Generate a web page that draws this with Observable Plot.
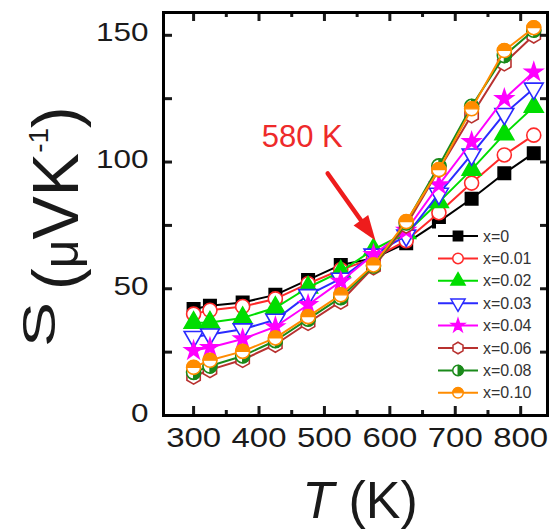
<!DOCTYPE html>
<html><head><meta charset="utf-8">
<script src="https://cdn.jsdelivr.net/npm/d3@7"></script>
<script src="https://cdn.jsdelivr.net/npm/@observablehq/plot@0.6"></script>
<style>body{margin:0;background:#fff} svg{display:block}</style>
</head><body><div id="chart"></div>
<script>
// ---- data ----
const temperatures = [300, 325, 375, 425, 475, 525, 575, 625, 675, 725, 775, 820];
const seriesNames = ["x=0", "x=0.01", "x=0.02", "x=0.03", "x=0.04", "x=0.06", "x=0.08", "x=0.10"];
const s_x000 = [42, 43.3, 44.6, 47.6, 53.5, 59.4, 62, 68, 76.5, 85.5, 95.6, 103.5];
const s_x001 = [40, 41.5, 43, 46, 52, 57.5, 62, 69, 80, 91.7, 102.8, 110.6];
const s_x002 = [36.6, 36.7, 38.5, 42.5, 50.5, 56.8, 65.5, 72, 84.2, 97, 111, 121.8];
const s_x003 = [31, 32, 34, 37.8, 47.5, 54, 63.5, 71, 87.5, 103, 119, 129];
const s_x004 = [25.6, 26.8, 30.2, 35, 43.7, 52.9, 63.5, 73, 91, 108, 125, 135.5];
const s_x006 = [15.4, 18, 22, 28, 36.6, 45, 58.5, 75, 97, 118.5, 139, 150];
const s_x008 = [17, 19.5, 23.5, 29.5, 38, 46.5, 59, 76, 98.5, 122, 142, 152];
const s_x010 = [19, 21.8, 25.3, 30.6, 39, 47.6, 59.4, 76.5, 97, 121, 144, 153];
const seriesValues = [s_x000, s_x001, s_x002, s_x003, s_x004, s_x006, s_x008, s_x010];
const xTickLabels = [300, 400, 500, 600, 700, 800];
const xMinorTicks = [350, 450, 550, 650, 750];
const yTickLabels = [0, 50, 100, 150];
const yAllTicks = [0, 25, 50, 75, 100, 125, 150];
const annotationText = ["580 K"];
const annotationPos = [{T: 466, S: 110}];
const arrowPos = [{T1: 505, S1: 95.5, T2: 578, S2: 69}];

// ---- styles ----
const seriesColors = ["#000000", "#ff2a2a", "#00dd00", "#2a2aff", "#ff00ff", "#b8312f", "#1a8a1a", "#ff8c00"];

const rows = [];
seriesNames.forEach((name, i) => temperatures.forEach((T, j) => rows.push({series: name, T, S: seriesValues[i][j]})));

// custom symbols
const hexSym = {draw(ctx, size) {
  const a = Math.sqrt(2 * size / (3 * Math.sqrt(3)));
  for (let k = 0; k < 6; k++) {
    const ang = -Math.PI / 2 + k * Math.PI / 3;
    const px = a * Math.cos(ang), py = a * Math.sin(ang);
    k === 0 ? ctx.moveTo(px, py) : ctx.lineTo(px, py);
  }
  ctx.closePath();
}};
const topHalf = {draw(ctx, size) {
  const r = Math.sqrt(size / Math.PI);
  ctx.moveTo(-r, 0); ctx.arc(0, 0, r, Math.PI, 2 * Math.PI); ctx.closePath();
}};
const rightHalf = {draw(ctx, size) {
  const r = Math.sqrt(size / Math.PI);
  ctx.moveTo(0, -r); ctx.arc(0, 0, r, -Math.PI / 2, Math.PI / 2); ctx.closePath();
}};
const triDown = {draw(ctx, size) {
  const s = Math.sqrt(size * 4 / Math.sqrt(3));
  const h = s * Math.sqrt(3) / 2;
  ctx.moveTo(0, 2 * h / 3); ctx.lineTo(s / 2, -h / 3); ctx.lineTo(-s / 2, -h / 3); ctx.closePath();
}};
const arrowHead = {draw(ctx) {
  ctx.moveTo(0, 0); ctx.lineTo(-9, -25); ctx.lineTo(9, -25); ctx.closePath();
}};

const markerSpec = [
  {symbol: "square", fill: "color"},
  {symbol: "circle", fill: "white"},
  {symbol: "triangle", fill: "color"},
  {symbol: triDown, fill: "white"},
  {symbol: "star", fill: "color", r: 5.5},
  {symbol: hexSym, fill: "white"},
  {symbol: "circle", fill: "white", overlay: rightHalf},
  {symbol: "circle", fill: "white", overlay: topHalf}
];

const marks = [];
seriesNames.forEach((name, i) => {
  const data = rows.filter(d => d.series === name);
  const spec = markerSpec[i];
  const r = spec.r ?? 7;
  marks.push(Plot.line(data, {x: "T", y: "S", stroke: "series", strokeWidth: 2}));
  marks.push(Plot.dot(data, {x: "T", y: "S", symbol: spec.symbol, r, stroke: "series", strokeWidth: 1.6,
    fill: spec.fill === "color" ? "series" : "white", fillOpacity: 1}));
  if (spec.overlay) marks.push(Plot.dot(data, {x: "T", y: "S", symbol: spec.overlay, r, fill: "series", stroke: "series", strokeWidth: 1.2}));
});

const innerH = 530 - 12 - 115, innerW = 549 - 163 - 2;

const plot = Plot.plot({
  width: 549, height: 530,
  marginLeft: 163, marginRight: 2, marginTop: 12, marginBottom: 115,
  style: {fontFamily: "'Liberation Sans', Arial, sans-serif", color: "#1a1a1a", background: "white"},
  x: {domain: [254, 841]},
  y: {domain: [0, 159]},
  color: {domain: seriesNames, range: seriesColors},
  marks: [
    ...marks,
    Plot.arrow(arrowPos, {x1: "T1", y1: "S1", x2: "T2", y2: "S2", stroke: "#ee1c1c", strokeWidth: 4.5, headLength: 0, insetEnd: 14, bend: false}),
    Plot.dot(arrowPos, {x: "T2", y: "S2", symbol: arrowHead, fill: "#ee1c1c", rotate: -35.6}),
    Plot.text(annotationPos, {x: "T", y: "S", text: (d, i) => annotationText[i], fill: "#ee2a2a", fontSize: 31}),
    Plot.tickX(xTickLabels, {x: d => d, insetTop: innerH - 9, strokeWidth: 3}),
    Plot.tickX(xMinorTicks, {x: d => d, insetTop: innerH - 5, strokeWidth: 3}),
    Plot.tickX(xTickLabels, {x: d => d, insetBottom: innerH - 9, strokeWidth: 3}),
    Plot.tickX(xMinorTicks, {x: d => d, insetBottom: innerH - 5, strokeWidth: 3}),
    Plot.tickY(yAllTicks, {y: d => d, insetRight: innerW - 9, strokeWidth: 3}),
    Plot.tickY(yAllTicks, {y: d => d, insetLeft: innerW - 7, strokeWidth: 3}),
    Plot.axisX(xTickLabels, {tickSize: 0, tickPadding: 12, fontSize: 27, label: null}),
    Plot.axisY(yTickLabels, {tickSize: 0, tickPadding: 15, fontSize: 25, label: null, dy: -2}),
    Plot.frame({stroke: "black", strokeWidth: 3})
  ]
});

const svg = d3.select(plot);
svg.selectAll('g[aria-label="x-axis tick label"] text').each(function() {
  const t = this.textContent; d3.select(this).attr("textLength", t.length * 18.3).attr("lengthAdjust", "spacingAndGlyphs");
});
svg.selectAll('g[aria-label="y-axis tick label"] text').each(function() {
  const t = this.textContent; d3.select(this).attr("textLength", t.length * 17.5).attr("lengthAdjust", "spacingAndGlyphs");
});

const FF = "'Liberation Sans', Arial, sans-serif";
// legend
const lg = svg.append("g").attr("font-family", FF).attr("text-anchor", "start");
lg.append("rect").attr("x", 436).attr("y", 224).attr("width", 103).attr("height", 181).attr("fill", "white");
seriesNames.forEach((name, i) => {
  const y = 236 + i * 22.4;
  const c = seriesColors[i];
  const spec = markerSpec[i];
  lg.append("line").attr("x1", 438).attr("x2", 478).attr("y1", y).attr("y2", y).attr("stroke", c).attr("stroke-width", 2);
  const rr = (spec.r ?? 7) * 0.75;
  const symType = typeof spec.symbol === "string"
    ? {square: d3.symbolSquare, circle: d3.symbolCircle, triangle: d3.symbolTriangle, star: d3.symbolStar}[spec.symbol]
    : spec.symbol;
  const size = Math.PI * rr * rr;
  lg.append("path").attr("d", d3.symbol(symType, size)()).attr("transform", `translate(458,${y})`)
    .attr("fill", spec.fill === "color" ? c : "white").attr("stroke", c).attr("stroke-width", 1.5);
  if (spec.overlay) lg.append("path").attr("d", d3.symbol(spec.overlay, size)()).attr("transform", `translate(458,${y})`).attr("fill", c).attr("stroke", c);
  lg.append("text").attr("x", 483).attr("y", y).attr("dy", "0.35em").attr("font-size", 16).attr("fill", "#333").attr("text-anchor", "start").text(name);
});

// axis titles
const xt = svg.append("text").attr("x", 360).attr("y", 518).attr("text-anchor", "middle")
  .attr("font-family", FF).attr("font-size", 52).attr("fill", "#1a1a1a");
xt.append("tspan").attr("font-style", "italic").text("T");
xt.append("tspan").text(" (K)");

svg.append("text").attr("transform", "translate(55,347) rotate(-90)").attr("text-anchor", "start")
  .attr("font-family", FF).attr("font-size", 46).attr("fill", "#1a1a1a")
  .attr("textLength", 45).attr("lengthAdjust", "spacingAndGlyphs").text("S");
const yt = svg.append("text").attr("transform", "translate(78,290) rotate(-90)").attr("text-anchor", "start")
  .attr("font-family", FF).attr("font-size", 65).attr("fill", "#1a1a1a");
yt.append("tspan").text("(");
yt.append("tspan").attr("font-size", 50).text("μ");
yt.append("tspan").text("VK");
yt.append("tspan").attr("font-size", 28).attr("dy", -30).text("-1");
yt.append("tspan").attr("dy", 30).text(")");

document.getElementById("chart").appendChild(plot);
</script>
</body></html>
